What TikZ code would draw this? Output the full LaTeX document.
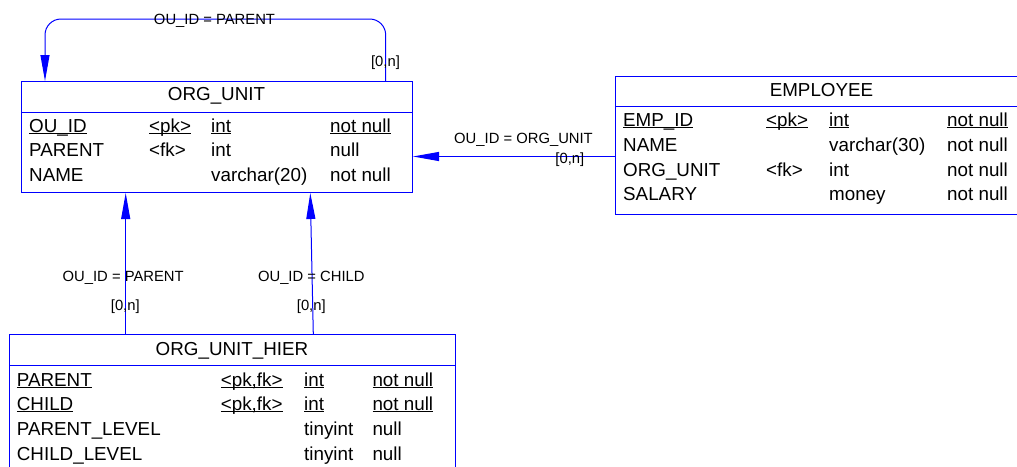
\documentclass[tikz,border=0pt]{standalone}
\usepackage{fontspec}
\setmainfont{Liberation Sans}
\usetikzlibrary{arrows.meta,calc}
\definecolor{erblue}{RGB}{0,0,255}
% underlined key column entry
\newcommand\keyline[1]{\setbox0\hbox{#1}\rlap{\rule[-2pt]{\wd0}{1.1pt}}\box0}

\begin{document}
\begin{tikzpicture}[x=1pt,y=-1pt,
  tbl/.style={draw=erblue, line width=1pt, rectangle, inner sep=0pt, anchor=north west},
  sep/.style={draw=erblue, line width=1pt},
  cell/.style={anchor=base west, inner sep=0pt, font=\fontsize{18.8}{20}\selectfont},
  ttl/.style={anchor=base, inner sep=0pt, font=\fontsize{18.8}{20}\selectfont},
  lbl/.style={anchor=base, inner sep=0pt, font=\fontsize{14.8}{16}\selectfont},
  fk/.style={draw=erblue, line width=1pt, -{Triangle[length=26pt,width=9pt]}}
]
\clip (0,0) rectangle (1017,466);

% ---------- ORG_UNIT ----------
\node[tbl, minimum width=391pt, minimum height=111pt] (ou) at (21,81) {};
\draw[sep] ($(ou.north west)+(0,31)$) -- ($(ou.north east)+(0,31)$);
\node[ttl] (outitle) at (216.5,100.7) {ORG\_UNIT};
\node[cell] (ou1a) at (29,132)  {\keyline{OU\_ID}};
\node[cell] (ou1b) at (149,132) {\keyline{<pk>}};
\node[cell] (ou1c) at (211,132) {\keyline{int}};
\node[cell] (ou1d) at (330,132) {\keyline{not null}};
\node[cell] (ou2a) at (29,156)  {PARENT};
\node[cell] (ou2b) at (149,156) {<fk>};
\node[cell] (ou2c) at (211,156) {int};
\node[cell] (ou2d) at (330,156) {null};
\node[cell] (ou3a) at (29,181)  {NAME};
\node[cell] (ou3c) at (211,181) {varchar(20)};
\node[cell] (ou3d) at (330,181) {not null};

% ---------- EMPLOYEE ----------
\node[tbl, minimum width=430pt, minimum height=138pt] (emp) at (615,76) {};
\draw[sep] ($(emp.north west)+(0,30)$) -- ($(emp.north east)+(0,30)$);
\node[ttl] (emptitle) at (821.5,96.7) {EMPLOYEE};
\node[cell] (e1a) at (623,126) {\keyline{EMP\_ID}};
\node[cell] (e1b) at (766,126) {\keyline{<pk>}};
\node[cell] (e1c) at (829,126) {\keyline{int}};
\node[cell] (e1d) at (947,126) {\keyline{not null}};
\node[cell] (e2a) at (623,151) {NAME};
\node[cell] (e2c) at (829,151) {varchar(30)};
\node[cell] (e2d) at (947,151) {not null};
\node[cell] (e3a) at (623,176) {ORG\_UNIT};
\node[cell] (e3b) at (766,176) {<fk>};
\node[cell] (e3c) at (829,176) {int};
\node[cell] (e3d) at (947,176) {not null};
\node[cell] (e4a) at (623,200.7) {SALARY};
\node[cell] (e4c) at (829,200.7) {money};
\node[cell] (e4d) at (947,200.7) {not null};

% ---------- ORG_UNIT_HIER ----------
\node[tbl, minimum width=446pt, minimum height=160pt] (hier) at (9,334.3) {};
\draw[sep] ($(hier.north west)+(0,30.7)$) -- ($(hier.north east)+(0,30.7)$);
\node[ttl] (hiertitle) at (232,355.7) {ORG\_UNIT\_HIER};
\node[cell] (h1a) at (16.7,386)  {\keyline{PARENT}};
\node[cell] (h1b) at (220.7,386) {\keyline{<pk,fk>}};
\node[cell] (h1c) at (304,386)   {\keyline{int}};
\node[cell] (h1d) at (372.3,386) {\keyline{not null}};
\node[cell] (h2a) at (16.7,410)  {\keyline{CHILD}};
\node[cell] (h2b) at (220.7,410) {\keyline{<pk,fk>}};
\node[cell] (h2c) at (304,410)   {\keyline{int}};
\node[cell] (h2d) at (372.3,410) {\keyline{not null}};
\node[cell] (h3a) at (16.7,435)  {PARENT\_LEVEL};
\node[cell] (h3c) at (304,435)   {tinyint};
\node[cell] (h3d) at (372.3,435) {null};
\node[cell] (h4a) at (16.7,460)  {CHILD\_LEVEL};
\node[cell] (h4c) at (304,460)   {tinyint};
\node[cell] (h4d) at (372.3,460) {null};

% ---------- references ----------
% self reference ORG_UNIT.PARENT -> ORG_UNIT.OU_ID
\draw[fk, rounded corners=16pt] ($(ou.north west)+(364.7,0)$) -- ++(0,-62) -| ($(ou.north west)+(24,0)$);
\node[lbl] (l1) at (214.5,24) {OU\_ID = PARENT};
\node[lbl] (c1) at (385.5,66.7) {[0,n]};

% EMPLOYEE.ORG_UNIT -> ORG_UNIT
\draw[fk] ($(emp.north west)+(0,80.5)$) -- ($(ou.north east)+(0,75.5)$);
\node[lbl] (l2) at (523.5,143) {OU\_ID = ORG\_UNIT};
\node[lbl] (c2) at (569.8,163) {[0,n]};

% ORG_UNIT_HIER.PARENT -> ORG_UNIT
\draw[fk] ($(hier.north west)+(116.7,0)$) -- ($(ou.south west)+(104.7,0)$);
\node[lbl] (l3) at (123.2,281.7) {OU\_ID = PARENT};
\node[lbl] (c3) at (125.3,310.7) {[0,n]};

% ORG_UNIT_HIER.CHILD -> ORG_UNIT
\draw[fk] ($(hier.north west)+(304.3,0)$) -- ($(ou.south west)+(289.3,0)$);
\node[lbl] (l4) at (311.3,281.7) {OU\_ID = CHILD};
\node[lbl] (c4) at (311.3,310.7) {[0,n]};
\end{tikzpicture}
\end{document}
